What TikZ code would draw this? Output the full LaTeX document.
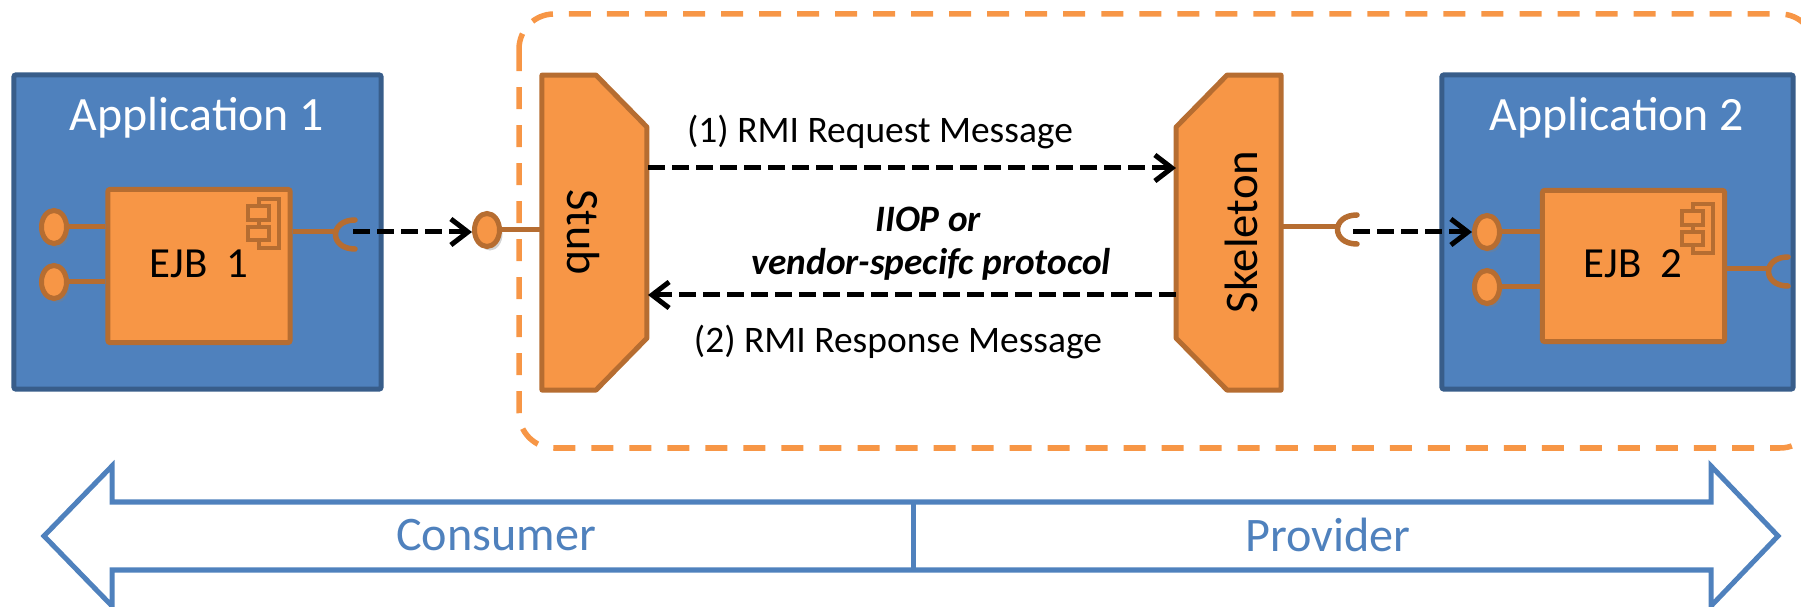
\documentclass[tikz,border=0pt]{standalone}
\usepackage{fontspec}
\setmainfont{Carlito}
\usetikzlibrary{shapes.geometric}
\usetikzlibrary{arrows.meta}
\usetikzlibrary{shadows}
\definecolor{ejborange}{HTML}{F79646}
\definecolor{ejbbrown}{HTML}{B66D31}
\definecolor{appblue}{HTML}{4F81BD}
\definecolor{appdark}{HTML}{385D8A}

\begin{document}
\begin{tikzpicture}[x=0.01cm, y=-0.01cm,
    appbox/.style={rectangle, draw=appdark, fill=appblue, line width=0.5mm, rounded corners=0.2mm},
    ejbbox/.style={rectangle, draw=ejbbrown, fill=ejborange, line width=0.5mm, rounded corners=0.2mm},
    slotbox/.style={rectangle, outer sep=0pt, inner sep=0pt, minimum width=1.05cm, minimum height=3.15cm},
    chamfer/.style={draw=ejbbrown, fill=ejborange, line width=0.5mm, line join=round},
    lolly/.style={ellipse, draw=ejbbrown, fill=ejborange, line width=0.5mm, inner sep=0pt,
      minimum width=0.25cm, minimum height=0.33cm, drop shadow={shadow xshift=0.3mm, shadow yshift=-0.4mm, opacity=0.35}},
    wire/.style={draw=ejbbrown, line width=0.5mm},
    socketarc/.style={draw=ejbbrown, line width=0.55mm, line cap=round},
    callarrow/.style={draw=black, line width=0.5mm, dash pattern=on 1.7mm off 0.7mm,
      -{Straight Barb[length=1.7mm, width=2.6mm, line width=0.5mm]}},
    bigarrow/.style={draw=appblue, line width=0.5mm, line join=miter},
    icon/.style={draw=ejbbrown, line width=0.35mm, fill=ejborange}]
  \clip (0,0) rectangle (1801,607);

  % Dashed region round stub, skeleton and second application
  \draw[draw=ejborange, line width=0.55mm, dash pattern=on 2.2mm off 1.6mm, rounded corners=0.35cm]
    (519,14) rectangle (1815,448);

  % Applications
  \node[appbox, minimum width=3.67cm, minimum height=3.14cm] (app1) at (197.5,232) {};
  \node[appbox, minimum width=3.51cm, minimum height=3.14cm] (app2) at (1617.5,232) {};
  \node[white, font=\fontsize{13.6}{16}\selectfont] (app1label) at (197,118) {Application 1};
  \node[white, font=\fontsize{13.6}{16}\selectfont] (app2label) at (1617,118) {Application 2};

  % Components
  \node[ejbbox, minimum width=1.82cm, minimum height=1.53cm] (ejb1) at (199,266) {};
  \node[ejbbox, minimum width=1.82cm, minimum height=1.51cm] (ejb2) at (1633.5,266) {};
  \node[font=\fontsize{12.2}{14}\selectfont] (ejb1label) at (199,264) {EJB\ \ 1};
  \node[font=\fontsize{12.2}{14}\selectfont] (ejb2label) at (1633,264) {EJB\ \ 2};

  % Small component icons
  \foreach \x/\y in {0/0, 1434/5} {
    \draw[icon] (\x+259,\y+199) rectangle (\x+279,\y+248);
    \draw[icon] (\x+248,\y+206) rectangle (\x+269,\y+220);
    \draw[icon] (\x+248,\y+227) rectangle (\x+269,\y+240);
  }

  % Stub and skeleton
  \node[slotbox] (stub) at (594.5,232.5) {};
  \node[slotbox] (skeleton) at (1228.5,232.5) {};
  \draw[chamfer] (stub.south west) -- ++(54,0) -- ++(51,-52) -- ++(0,-211) -- ++(-51,-52) -- ++(-54,0) -- cycle;
  \draw[chamfer] (skeleton.south east) -- ++(-54,0) -- ++(-51,-52) -- ++(0,-211) -- ++(51,-52) -- ++(54,0) -- cycle;
  \node[rotate=-90, font=\fontsize{13.2}{15}\selectfont] (stublabel) at (583,232) {Stub};
  \node[rotate=90, font=\fontsize{13.3}{15}\selectfont] (skeletonlabel) at (1241,232) {Skeleton};

  % Provided interfaces
  \node[lolly] (in1a) at (54,227) {};
  \node[lolly] (in1b) at (54,282) {};
  \node[lolly] (in2a) at (1487,232) {};
  \node[lolly] (in2b) at (1487,287) {};
  \node[lolly] (instub) at (487,230) {};
  \draw[wire] (in1a.east) -- (in1a.east -| ejb1.west);
  \draw[wire] (in1b.east) -- (in1b.east -| ejb1.west);
  \draw[wire] (in2a.east) -- (in2a.east -| ejb2.west);
  \draw[wire] (in2b.east) -- (in2b.east -| ejb2.west);
  \draw[wire] (instub.east) -- (instub.east -| stub.west);

  % Required interfaces
  \coordinate (sock1) at (335,232);
  \coordinate (sockskel) at (1337,227);
  \coordinate (sock2) at (1768,269);
  \draw[wire] (sock1 -| ejb1.east) -- (sock1);
  \draw[wire] (sockskel -| skeleton.east) -- (sockskel);
  \draw[wire] (sock2 -| ejb2.east) -- (sock2);
  \foreach \s in {sock1, sockskel, sock2} {
    \draw[socketarc] (\s) ++(20,-12) .. controls +(-26,0) and +(-26,0) .. +(0,29);
  }

  % Calls across the interfaces
  \coordinate (call1) at (353,232);
  \coordinate (call2) at (1353,232);
  \draw[callarrow] (call1) -- (instub.west |- call1);
  \draw[callarrow] (call2) -- (in2a.west);

  % Messages between stub and skeleton
  \coordinate (stubreq) at (648,168);
  \coordinate (stubres) at (648,295);
  \draw[callarrow] (stubreq) -- (stubreq -| skeleton.west);
  \draw[callarrow] (stubres -| skeleton.west) -- (stubres);
  \node[font=\fontsize{10.65}{13}\selectfont] (reqlabel) at (880,132) {(1) RMI Request Message};
  \node[font=\fontsize{10.65}{13}\selectfont] (reslabel) at (898,342) {(2) RMI Response Message};
  \node[font=\fontsize{10.6}{13}\selectfont\bfseries\itshape] (iioplabel) at (928,219) {IIOP or};
  \node[font=\fontsize{10.6}{13}\selectfont\bfseries\itshape] (protolabel) at (931,264) {vendor-specifc protocol};

  % Consumer and provider band
  \coordinate (tipl) at (44,536);
  \coordinate (tipr) at (1778,536);
  \coordinate (mid) at (913,536);
  \draw[bigarrow] (tipl) -- (112,466) -- (112,502) -- (1711,502) -- (1711,466) -- (tipr)
    -- (1711,606) -- (1711,570) -- (112,570) -- (112,606) -- cycle;
  \draw[bigarrow] (mid |- 0,502) -- (mid |- 0,570);
  \node[text=appblue, font=\fontsize{13.7}{17}\selectfont] (consumer) at (496,535) {Consumer};
  \node[text=appblue, font=\fontsize{13.7}{17}\selectfont] (provider) at (1328,535) {Provider};
\end{tikzpicture}
\end{document}
